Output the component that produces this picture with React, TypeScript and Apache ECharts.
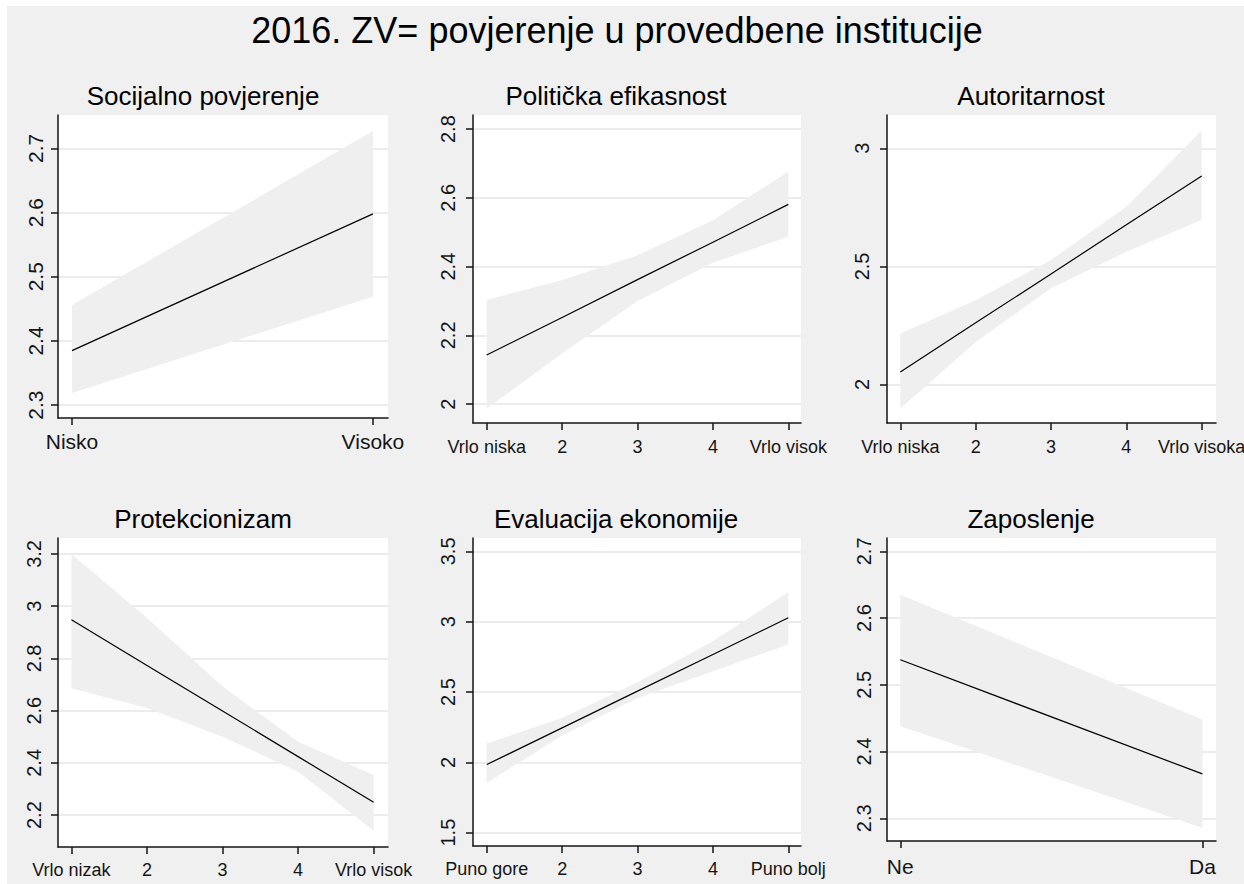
import React, { useEffect, useRef } from "react";
import * as echarts from "echarts";

// ---------- data ----------
const MAIN_TITLE = "2016. ZV= povjerenje u provedbene institucije";
const PANEL_TITLES = [
  "Socijalno povjerenje",
  "Politička efikasnost",
  "Autoritarnost",
  "Protekcionizam",
  "Evaluacija ekonomije",
  "Zaposlenje",
];

const X_BINARY = [0, 1];
const X_FIVE = [1, 2, 3, 4, 5];

const socijalnoXLabels = ["Nisko", "Visoko"];
const socijalnoYTicks = [2.3, 2.4, 2.5, 2.6, 2.7];
const socijalnoFit = [2.385, 2.598];
const socijalnoLower = [2.319, 2.469];
const socijalnoUpper = [2.456, 2.727];

const politickaXLabels = ["Vrlo niska", "2", "3", "4", "Vrlo visok"];
const politickaYTicks = [2.0, 2.2, 2.4, 2.6, 2.8];
const politickaFit = [2.143, 2.252, 2.362, 2.471, 2.581];
const politickaLower = [1.987, 2.147, 2.3, 2.411, 2.487];
const politickaUpper = [2.303, 2.361, 2.433, 2.535, 2.676];

const autoritarnostXLabels = ["Vrlo niska", "2", "3", "4", "Vrlo visoka"];
const autoritarnostYTicks = [2.0, 2.5, 3.0];
const autoritarnostFit = [2.053, 2.261, 2.468, 2.676, 2.883];
const autoritarnostLower = [1.898, 2.18, 2.407, 2.562, 2.696];
const autoritarnostUpper = [2.216, 2.357, 2.527, 2.753, 3.075];

const protekcionizamXLabels = ["Vrlo nizak", "2", "3", "4", "Vrlo visok"];
const protekcionizamYTicks = [2.2, 2.4, 2.6, 2.8, 3.0, 3.2];
const protekcionizamFit = [2.948, 2.773, 2.599, 2.424, 2.249];
const protekcionizamLower = [2.686, 2.61, 2.5, 2.366, 2.14];
const protekcionizamUpper = [3.2, 2.955, 2.693, 2.481, 2.354];

const evaluacijaXLabels = ["Puno gore", "2", "3", "4", "Puno bolj"];
const evaluacijaYTicks = [1.5, 2.0, 2.5, 3.0, 3.5];
const evaluacijaFit = [1.984, 2.245, 2.506, 2.767, 3.028];
const evaluacijaLower = [1.853, 2.19, 2.458, 2.648, 2.838];
const evaluacijaUpper = [2.133, 2.316, 2.57, 2.861, 3.21];

const zaposlenjeXLabels = ["Ne", "Da"];
const zaposlenjeYTicks = [2.3, 2.4, 2.5, 2.6, 2.7];
const zaposlenjeFit = [2.5375, 2.3665];
const zaposlenjeLower = [2.438, 2.286];
const zaposlenjeUpper = [2.635, 2.448];

// ---------- layout / style ----------
const FONT = '"Liberation Sans", Arial, Helvetica, sans-serif';
const BG = "#f0f0f0";
const BAND = "#efefef";
const INK = "#151515";

const PANELS = [
  { x: X_BINARY, xl: socijalnoXLabels, yt: socijalnoYTicks, fit: socijalnoFit, lo: socijalnoLower, up: socijalnoUpper,
    left: 58, top: 115, width: 330, height: 303, xMin: -0.0465, xMax: 1.05, yMin: 2.28, yMax: 2.752,
    xFont: 21, yFont: 21, xMargin: 13, yMargin: 12, tx: 203, ty: 96 },
  { x: X_FIVE, xl: politickaXLabels, yt: politickaYTicks, fit: politickaFit, lo: politickaLower, up: politickaUpper,
    left: 473, top: 115, width: 328, height: 308, xMin: 0.818, xMax: 5.168, yMin: 1.945, yMax: 2.841,
    xFont: 18, yFont: 20, xMargin: 15, yMargin: 15, tx: 616, ty: 96 },
  { x: X_FIVE, xl: autoritarnostXLabels, yt: autoritarnostYTicks, fit: autoritarnostFit, lo: autoritarnostLower, up: autoritarnostUpper,
    left: 887, top: 115, width: 329, height: 308, xMin: 0.823, xMax: 5.19, yMin: 1.837, yMax: 3.141,
    xFont: 18, yFont: 20, xMargin: 15, yMargin: 15, tx: 1031, ty: 96 },
  { x: X_FIVE, xl: protekcionizamXLabels, yt: protekcionizamYTicks, fit: protekcionizamFit, lo: protekcionizamLower, up: protekcionizamUpper,
    left: 58, top: 538, width: 330, height: 309, xMin: 0.822, xMax: 5.19, yMin: 2.078, yMax: 3.261,
    xFont: 18, yFont: 20, xMargin: 14, yMargin: 14, tx: 203, ty: 519 },
  { x: X_FIVE, xl: evaluacijaXLabels, yt: evaluacijaYTicks, fit: evaluacijaFit, lo: evaluacijaLower, up: evaluacijaUpper,
    left: 473, top: 538, width: 328, height: 308, xMin: 0.818, xMax: 5.168, yMin: 1.405, yMax: 3.595,
    xFont: 18, yFont: 20, xMargin: 14, yMargin: 15, tx: 616, ty: 519 },
  { x: X_BINARY, xl: zaposlenjeXLabels, yt: zaposlenjeYTicks, fit: zaposlenjeFit, lo: zaposlenjeLower, up: zaposlenjeUpper,
    left: 887, top: 538, width: 329, height: 303, xMin: -0.044, xMax: 1.045, yMin: 2.266, yMax: 2.72,
    xFont: 21, yFont: 20, xMargin: 15, yMargin: 13, tx: 1031, ty: 519 },
];

function buildOption() {
  const axisLine = { show: true, onZero: false, lineStyle: { color: INK, width: 1.5 } };
  const grid = PANELS.map((p) => ({
    left: p.left, top: p.top, width: p.width, height: p.height,
    show: true, backgroundColor: "#ffffff", borderWidth: 0,
    containLabel: false, outerBoundsMode: "none",
  }));
  const xAxis = PANELS.map((p, i) => ({
    type: "value", gridIndex: i, min: p.xMin, max: p.xMax,
    axisLine,
    axisTick: { show: true, length: 7, customValues: p.x, lineStyle: { color: INK, width: 1.5 } },
    axisLabel: {
      customValues: p.x, fontSize: p.xFont, fontFamily: FONT, color: INK, margin: p.xMargin,
      hideOverlap: false,
      formatter: (v: number) => {
        const k = p.x.findIndex((t) => Math.abs(t - v) < 1e-6);
        return k >= 0 ? p.xl[k] : "";
      },
    },
    splitLine: { show: false },
  }));
  const yAxis = PANELS.map((p, i) => ({
    type: "value", gridIndex: i, min: p.yMin, max: p.yMax,
    axisLine,
    axisTick: { show: true, length: 7, customValues: p.yt, lineStyle: { color: INK, width: 1.5 } },
    axisLabel: {
      customValues: p.yt, fontSize: p.yFont, fontFamily: FONT, color: INK, margin: p.yMargin,
      rotate: 90, hideOverlap: false,
      formatter: (v: number) => String(Math.round(v * 10) / 10),
    },
    splitLine: { show: true, lineStyle: { color: "#e6e6e6", width: 1.5 } },
  }));
  const series: any[] = [];
  PANELS.forEach((p, i) => {
    // confidence band: polygon built from upper and lower bounds via the axes' scales
    series.push({
      type: "custom", xAxisIndex: i, yAxisIndex: i, silent: true, z: 1,
      data: [[p.x[0], p.lo[0]]],
      renderItem: (_params: any, api: any) => {
        const pts: number[][] = [];
        p.x.forEach((x, k) => pts.push(api.coord([x, p.up[k]])));
        for (let k = p.x.length - 1; k >= 0; k--) pts.push(api.coord([p.x[k], p.lo[k]]));
        return { type: "polygon", shape: { points: pts }, style: { fill: BAND, stroke: "none" } };
      },
    });
    series.push({
      type: "line", xAxisIndex: i, yAxisIndex: i, silent: true,
      symbol: "none", lineStyle: { color: "#000000", width: 1.2 }, z: 3,
      data: p.x.map((x, k) => [x, p.fit[k]]),
    });
  });
  const graphic: any[] = [
    { type: "rect", left: 0, top: 0, shape: { x: 0, y: 0, width: 1244, height: 6 }, style: { fill: "#ffffff" }, silent: true },
    { type: "rect", left: 0, top: 0, shape: { x: 0, y: 0, width: 7, height: 884 }, style: { fill: "#ffffff" }, silent: true },
    {
      type: "text", x: 617, y: 30, silent: true,
      style: { text: MAIN_TITLE, font: `36px ${FONT}`, fill: "#000", textAlign: "center", textVerticalAlign: "middle", align: "center", verticalAlign: "middle" },
    },
  ];
  PANELS.forEach((p, i) => {
    graphic.push({
      type: "text", x: p.tx, y: p.ty, silent: true,
      style: { text: PANEL_TITLES[i], font: `26px ${FONT}`, fill: "#000", textAlign: "center", textVerticalAlign: "middle", align: "center", verticalAlign: "middle" },
    });
  });
  return {
    animation: false,
    backgroundColor: BG,
    grid, xAxis, yAxis, series, graphic,
  };
}

export default function App() {
  const ref = useRef<HTMLDivElement>(null);
  useEffect(() => {
    if (!ref.current) return;
    const chart = echarts.init(ref.current, undefined, { renderer: "svg" });
    chart.setOption(buildOption() as any);
    return () => chart.dispose();
  }, []);
  return (
    <div
      ref={ref}
      style={{ position: "absolute", left: 0, top: 0, width: 1244, height: 884 }}
    />
  );
}
